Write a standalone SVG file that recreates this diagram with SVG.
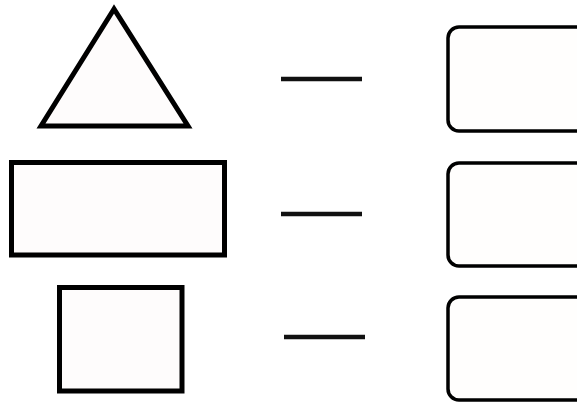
<svg xmlns="http://www.w3.org/2000/svg" width="577" height="403" viewBox="0 0 577 403">
<style>
.shape{fill:#fefcfc;stroke:#000;stroke-width:5;stroke-linejoin:miter}
.box{fill:#fffefd;stroke:#000;stroke-width:3.5}
.dash{stroke:#111;stroke-width:4.5;stroke-linecap:butt}
</style>
<rect width="577" height="403" fill="#fff"/>
<g id="triangle"><polygon class="shape" points="114,9 41,126 188,126"/></g>
<g id="rectangle"><rect class="shape" x="11.5" y="162.5" width="213" height="92.5"/></g>
<g id="square"><rect class="shape" x="59.5" y="287.5" width="122.5" height="103.5"/></g>
<g id="box1"><rect class="box" x="448" y="27" width="150" height="104" rx="11"/></g>
<g id="box2"><rect class="box" x="448" y="163" width="150" height="103" rx="11"/></g>
<g id="box3"><rect class="box" x="448" y="297" width="150" height="103" rx="11"/></g>
<g id="connectors">
<line class="dash" x1="281" y1="79" x2="362" y2="79"/>
<line class="dash" x1="281" y1="214" x2="362" y2="214"/>
<line class="dash" x1="284" y1="337" x2="365" y2="337"/>
</g>
</svg>
